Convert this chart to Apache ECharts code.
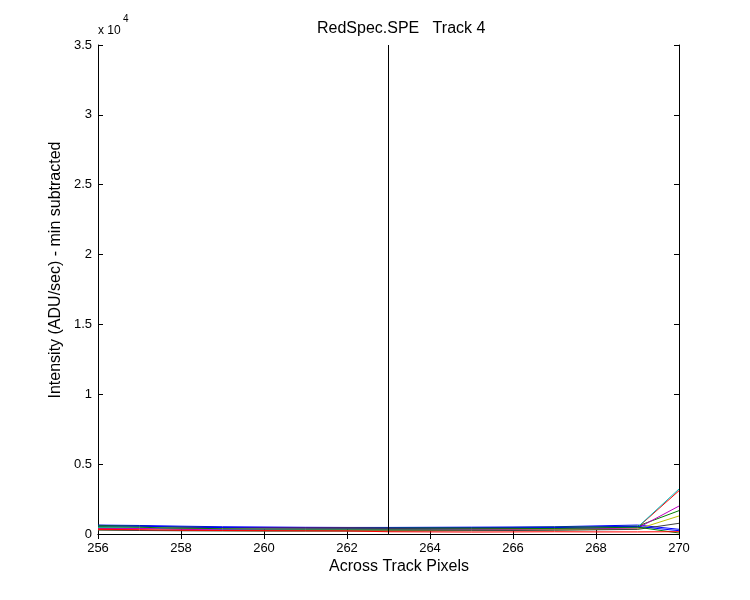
<!DOCTYPE html>
<html>
<head>
<meta charset="utf-8">
<script src="https://cdn.jsdelivr.net/npm/echarts@6/dist/echarts.min.js"></script>
<style>
html,body{margin:0;padding:0;background:#fff;}
#chart{width:750px;height:600px;}
</style>
</head>
<body>
<div id="chart"></div>
<script>
// Across-track pixel positions
const xPixels = [256,257,258,259,260,261,262,263,264,265,266,267,268,269,270];
// Series values (ADU/sec, min subtracted)
const seriesB1 = [640,610,560,520,500,480,470,470,480,490,500,520,580,640,336];
const seriesG1 = [620,560,500,470,460,450,450,440,450,460,470,490,520,560,1670];
const seriesR1 = [400,380,420,440,440,430,420,400,380,380,390,400,420,460,3100];
const seriesC1 = [460,420,360,320,300,290,290,300,310,320,330,350,400,480,3220];
const seriesM1 = [360,400,330,300,290,280,280,290,300,310,320,340,380,420,2000];
const seriesY1 = [300,270,250,240,230,230,230,240,250,260,270,290,320,350,1290];
const seriesK1 = [280,250,230,220,210,210,210,220,230,240,250,270,300,330,765];
const seriesB2 = [560,560,500,460,440,430,420,420,420,430,440,460,500,540,236];
const seriesG2 = [520,480,420,380,360,350,350,350,360,370,380,400,440,490,70];
const seriesR2 = [330,310,270,250,240,230,220,160,150,140,150,160,150,150,165];
const allSeries = [seriesB1,seriesG1,seriesR1,seriesC1,seriesM1,seriesY1,seriesK1,seriesB2,seriesG2,seriesR2];
const seriesColors = ['#0000ff','#008000','#ff0000','#00bfbf','#bf00bf','#bfbf00','#404040','#0000ff','#008000','#ff0000'];
const markerX = 263;
const xTicks = [256,258,260,262,264,266,268,270];
const yTickLabels = ['0','0.5','1','1.5','2','2.5','3','3.5'];
const titleText = 'RedSpec.SPE   Track 4';
const xLabel = 'Across Track Pixels';
const yLabel = 'Intensity (ADU/sec) - min subtracted';

const font = '"Liberation Sans", Arial, sans-serif';
const chart = echarts.init(document.getElementById('chart'), null, {renderer:'canvas'});

const series = allSeries.map((vals, i) => ({
  type: 'line',
  data: xPixels.map((x, j) => [x, vals[j]]),
  showSymbol: false,
  symbol: 'none',
  lineStyle: {color: seriesColors[i], width: 1},
  itemStyle: {color: seriesColors[i]},
  animation: false,
  z: 2
}));
series.push({
  type: 'line',
  data: [],
  markLine: {
    silent: true,
    symbol: 'none',
    label: {show: false},
    lineStyle: {color: '#000', width: 1, type: 'solid'},
    data: [{xAxis: markerX}]
  },
  animation: false,
  z: 3
});

const axisLine = {show: true, lineStyle: {color: '#000', width: 1}};
const axisTick = {show: true, inside: true, length: 5, lineStyle: {color: '#000', width: 1}};

chart.setOption({
  backgroundColor: '#fff',
  animation: false,
  grid: {left: 98, right: 71, top: 45, bottom: 66, show: false},
  xAxis: [{
    type: 'value', min: 256, max: 270, interval: 2, position: 'bottom',
    axisLine, axisTick, splitLine: {show: false},
    axisLabel: {color: '#000', fontFamily: font, fontSize: 13, margin: 8,
      formatter: v => xTicks.includes(v) ? String(v) : ''}
  }, {
    type: 'value', min: 256, max: 270, interval: 2, position: 'top',
    axisLine, axisTick, splitLine: {show: false}, axisLabel: {show: false}
  }],
  yAxis: [{
    type: 'value', min: 0, max: 35000, interval: 5000, position: 'left',
    axisLine, axisTick, splitLine: {show: false},
    axisLabel: {color: '#000', fontFamily: font, fontSize: 13, margin: 6,
      formatter: v => yTickLabels[Math.round(v / 5000)]}
  }, {
    type: 'value', min: 0, max: 35000, interval: 5000, position: 'right',
    axisLine, axisTick, splitLine: {show: false}, axisLabel: {show: false}
  }],
  series,
  graphic: [
    {type: 'text', left: 317, top: 21, style: {text: titleText, font: '16px ' + font, fill: '#000'}},
    {type: 'text', x: 399, y: 567, style: {text: xLabel, font: '16px ' + font, fill: '#000', align: 'center', verticalAlign: 'middle'}},
    {type: 'text', x: 56, y: 270, rotation: Math.PI / 2, style: {text: yLabel, font: '16px ' + font, fill: '#000', align: 'center', verticalAlign: 'middle'}},
    {type: 'text', left: 98, top: 25, style: {text: 'x 10', font: '12px ' + font, fill: '#000'}},
    {type: 'text', left: 123, top: 14, style: {text: '4', font: '10px ' + font, fill: '#000'}}
  ]
});
</script>
</body>
</html>
